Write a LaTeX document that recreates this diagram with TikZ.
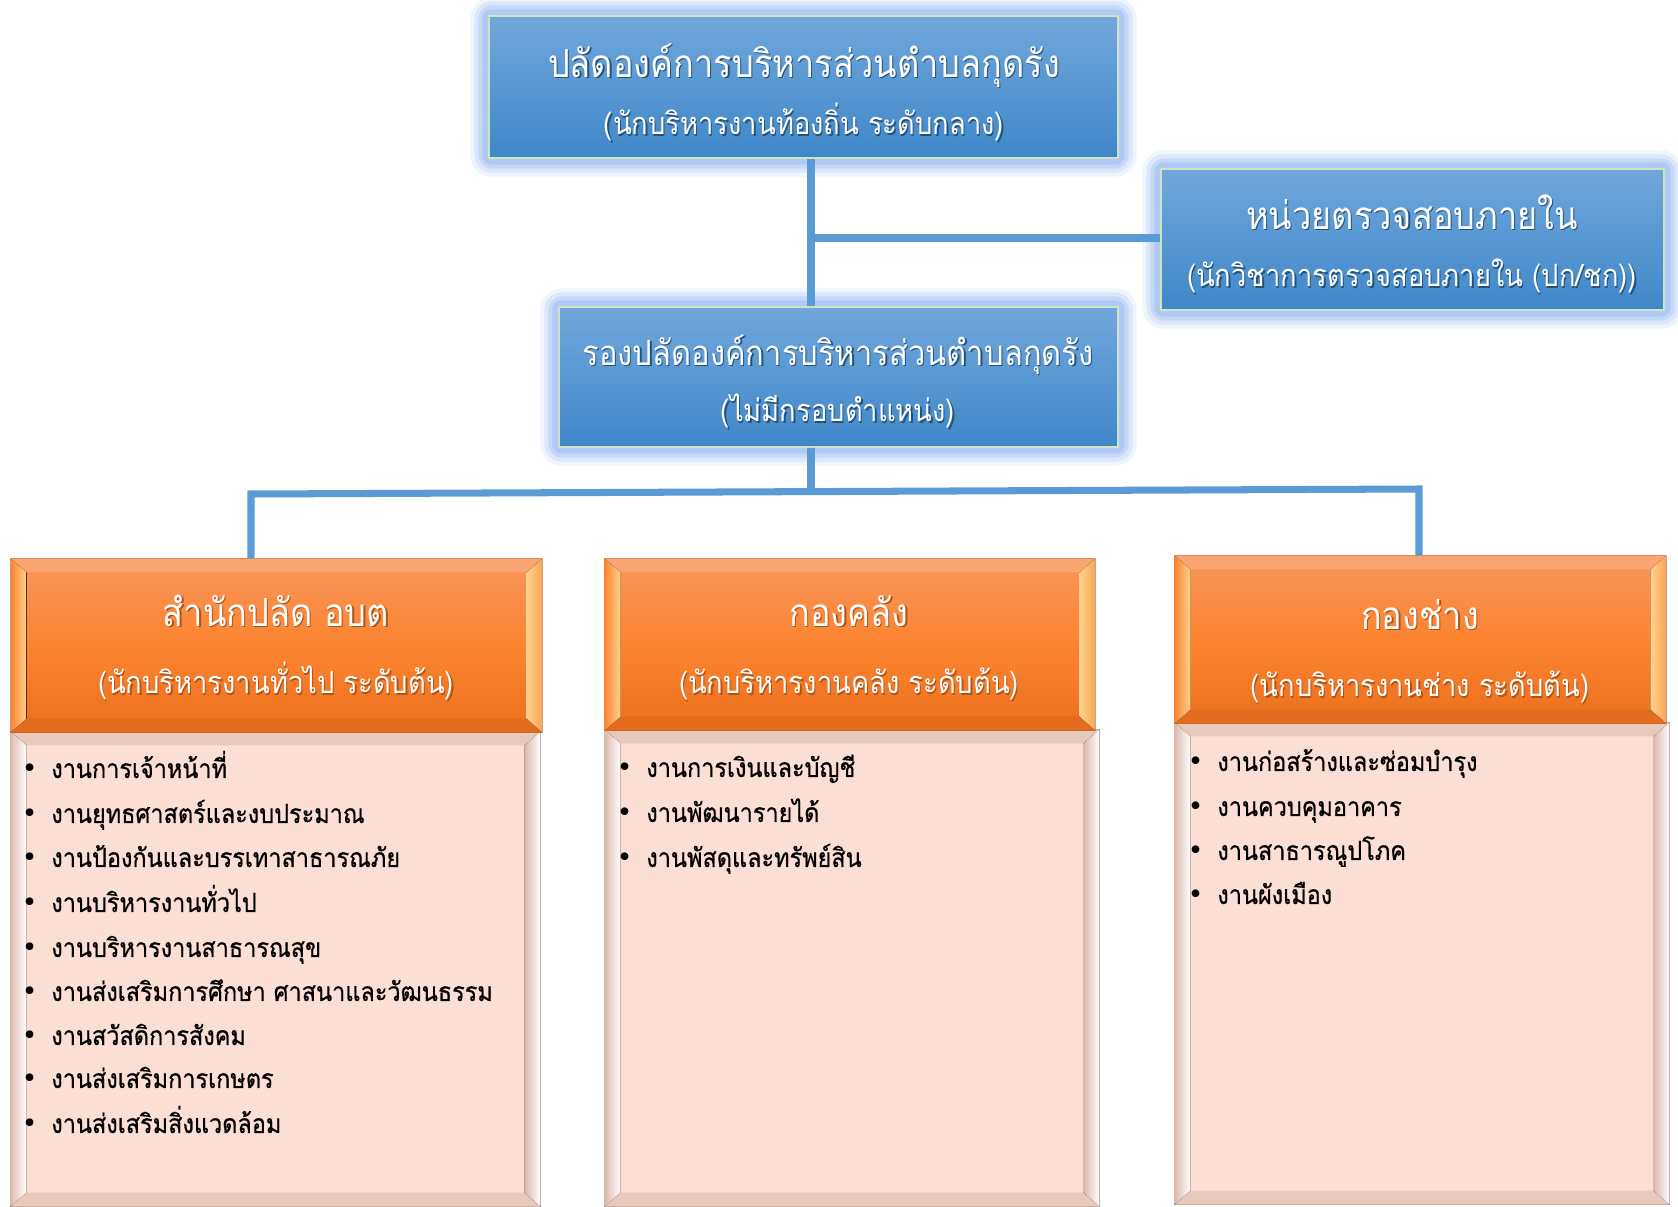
\documentclass[tikz,border=0pt]{standalone}
\usepackage{fontspec}
\setmainfont[Script=Thai,FakeStretch=0.89]{Loma}
\newfontfamily\listfont[Script=Thai,FakeStretch=0.89,FakeBold=0.6]{Loma}
\newfontfamily\bulfont{DejaVu Sans}
\usetikzlibrary{backgrounds}
\definecolor{linkblue}{HTML}{5B9BD5}
\definecolor{glowblue}{HTML}{9DBCF3}
\definecolor{bluetop}{HTML}{71A7DC}
\definecolor{bluebot}{HTML}{3F87C8}
\definecolor{blueedge}{HTML}{CDE3C3}
\definecolor{orgtop}{HTML}{F8955B}
\definecolor{orgmid}{HTML}{FC8430}
\definecolor{orgbot}{HTML}{EB6F1E}
\definecolor{orgedge}{HTML}{A85A30}
\definecolor{orggold}{HTML}{FFD28C}
\definecolor{pinkfill}{HTML}{FBDFD5}
\definecolor{pinkdark}{HTML}{DDB8AF}
\definecolor{pinkedge}{HTML}{858585}
\newcommand{\bul}[1]{\llap{{\bulfont\char"2022}\hspace{8pt}}#1}
\newcommand{\shd}[2]{\rlap{\hspace{.7pt}\raisebox{-.7pt}{\textcolor{#1}{#2}}}#2}
\newcommand{\glow}[1]{%
  \begin{scope}[on background layer]
  \fill[glowblue,opacity=.15,rounded corners=12pt] ([shift={(-18,-18)}]#1.north west) rectangle ([shift={(18,18)}]#1.south east);
  \fill[glowblue,opacity=.25,rounded corners=10pt] ([shift={(-14,-14)}]#1.north west) rectangle ([shift={(14,14)}]#1.south east);
  \fill[glowblue,opacity=.35,rounded corners=8pt] ([shift={(-10,-10)}]#1.north west) rectangle ([shift={(10,10)}]#1.south east);
  \fill[glowblue,opacity=.5,rounded corners=5pt] ([shift={(-6,-6)}]#1.north west) rectangle ([shift={(6,6)}]#1.south east);
  \end{scope}}
\newcommand{\bevel}[5]{%
  \fill[#2] (#1.north west) -- (#1.north east) -- ([shift={(-16,14)}]#1.north east) -- ([shift={(16,14)}]#1.north west) -- cycle;
  \fill[#5] (#1.south west) -- (#1.south east) -- ([shift={(-16,-14)}]#1.south east) -- ([shift={(16,-14)}]#1.south west) -- cycle;
  \fill[#3] (#1.north west) -- ([shift={(16,14)}]#1.north west) -- ([shift={(16,-14)}]#1.south west) -- (#1.south west) -- cycle;
  \fill[#4] (#1.north east) -- ([shift={(-16,14)}]#1.north east) -- ([shift={(-16,-14)}]#1.south east) -- (#1.south east) -- cycle;}

\begin{document}
\begin{tikzpicture}[x=0.02cm,y=-0.02cm,
  bluebox/.style={rectangle,draw=blueedge,line width=.8pt,top color=bluetop,bottom color=bluebot,inner sep=0pt},
  headbox/.style={rectangle,draw=orgedge,line width=.6pt,top color=orgtop,bottom color=orgbot,middle color=orgmid,inner sep=0pt},
  listbox/.style={rectangle,draw=pinkedge,line width=.8pt,fill=pinkfill,inner sep=0pt},
  title/.style={text=white,font=\fontsize{22}{26}\selectfont,text height=19pt,text depth=4pt,inner sep=0pt},
  subtitle/.style={text=white,font=\fontsize{17.5}{20}\selectfont,text height=16.5pt,text depth=3pt,inner sep=0pt},
  item/.style={anchor=west,font=\listfont\fontsize{15}{18}\selectfont,text height=15pt,text depth=2.5pt,inner sep=0pt},
  link/.style={linkblue,line width=4pt}]
\useasboundingbox (0,0) rectangle (1678,1207);
%blue boxes
\node[bluebox,minimum width=12.58cm,minimum height=2.84cm] (top) at (803.5,87) {};
\node[bluebox,minimum width=10.06cm,minimum height=2.82cm] (audit) at (1412.5,239.5) {};
\node[bluebox,minimum width=11.18cm,minimum height=2.80cm] (deputy) at (838.5,377) {};
\glow{top}
\glow{audit}
\glow{deputy}
\node[title] (topT) at (804,64) {\shd{bluebot!60!black}{ปลัดองค์การบริหารส่วนตำบลกุดรัง}};
\node[subtitle] (topS) at (804,123) {\shd{bluebot!60!black}{(นักบริหารงานท้องถิ่น ระดับกลาง)}};
\node[title] (auditT) at (1412,216) {\shd{bluebot!60!black}{หน่วยตรวจสอบภายใน}};
\node[subtitle] (auditS) at (1412,275) {\shd{bluebot!60!black}{(นักวิชาการตรวจสอบภายใน (ปก/ชก))}};
\node[title,font=\fontsize{19.8}{24}\selectfont,text height=17.5pt,text depth=3.5pt] (deputyT) at (838,353) {\shd{bluebot!60!black}{รองปลัดองค์การบริหารส่วนตำบลกุดรัง}};
\node[subtitle] (deputyS) at (838,410) {\shd{bluebot!60!black}{(ไม่มีกรอบตำแหน่ง)}};
%connectors
\coordinate (jt) at (811,238);
\coordinate (jb) at (811,492);
\coordinate (jl) at (251,494);
\coordinate (jr) at (1419,489);
\draw[link] (top.south -| jt) -- (deputy.north -| jt);
\draw[link] (jt) -- (jt -| audit.west);
\draw[link] (deputy.south -| jb) -- (jb);
%divisions
\node[listbox,minimum width=10.58cm,minimum height=9.48cm] (loffice) at (275.5,969) {};
\node[listbox,minimum width=9.88cm,minimum height=9.52cm] (lfinance) at (852,968) {};
\node[listbox,minimum width=9.88cm,minimum height=9.62cm] (lworks) at (1422,963.5) {};
\bevel{loffice}{pinkdark!60!pinkfill}{left color=pinkdark,right color=white}{left color=pinkdark,right color=white}{pinkdark!60!pinkfill}
\bevel{lfinance}{pinkdark!60!pinkfill}{left color=pinkdark,right color=white}{left color=pinkdark,right color=white}{pinkdark!60!pinkfill}
\bevel{lworks}{pinkdark!60!pinkfill}{left color=pinkdark,right color=white}{left color=pinkdark,right color=white}{pinkdark!60!pinkfill}
\node[headbox,minimum width=10.62cm,minimum height=3.46cm] (hoffice) at (276.5,645.5) {};
\node[headbox,minimum width=9.80cm,minimum height=3.42cm] (hfinance) at (850,644.5) {};
\node[headbox,minimum width=9.82cm,minimum height=3.34cm] (hworks) at (1420.5,639.5) {};
\bevel{hoffice}{orgtop!85!white}{left color=orgmid,right color=orggold}{left color=orggold,right color=orgmid!60!orggold}{orgbot!96!black}
\bevel{hfinance}{orgtop!85!white}{left color=orgmid,right color=orggold}{left color=orggold,right color=orgmid!60!orggold}{orgbot!96!black}
\bevel{hworks}{orgtop!85!white}{left color=orgmid,right color=orggold}{left color=orggold,right color=orgmid!60!orggold}{orgbot!96!black}
\draw[link] (hoffice.north -| jl) -- (jl) -- (jr) -- (hworks.north -| jr);
\node[title] (hofficeT) at (276,613) {\shd{orgbot!75!black}{สำนักปลัด อบต}};
\node[subtitle] (hofficeS) at (276,682) {\shd{orgbot!75!black}{(นักบริหารงานทั่วไป ระดับต้น)}};
\node[title] (hfinanceT) at (849,613) {\shd{orgbot!75!black}{กองคลัง}};
\node[subtitle] (hfinanceS) at (849,682) {\shd{orgbot!75!black}{(นักบริหารงานคลัง ระดับต้น)}};
\node[title] (hworksT) at (1420,616) {\shd{orgbot!75!black}{กองช่าง}};
\node[subtitle] (hworksS) at (1420,685) {\shd{orgbot!75!black}{(นักบริหารงานช่าง ระดับต้น)}};
%work lists
\node[item] (off1) at (51,767) {\bul{งานการเจ้าหน้าที่}};
\node[item] (off2) at (51,812) {\bul{งานยุทธศาสตร์และงบประมาณ}};
\node[item] (off3) at (51,856) {\bul{งานป้องกันและบรรเทาสาธารณภัย}};
\node[item] (off4) at (51,901) {\bul{งานบริหารงานทั่วไป}};
\node[item] (off5) at (51,946) {\bul{งานบริหารงานสาธารณสุข}};
\node[item] (off6) at (51,990) {\bul{งานส่งเสริมการศึกษา ศาสนาและวัฒนธรรม}};
\node[item] (off7) at (51,1034) {\bul{งานสวัสดิการสังคม}};
\node[item] (off8) at (51,1077) {\bul{งานส่งเสริมการเกษตร}};
\node[item] (off9) at (51,1122) {\bul{งานส่งเสริมสิ่งแวดล้อม}};
\node[item] (fin1) at (646,766) {\bul{งานการเงินและบัญชี}};
\node[item] (fin2) at (646,811) {\bul{งานพัฒนารายได้}};
\node[item] (fin3) at (646,856) {\bul{งานพัสดุและทรัพย์สิน}};
\node[item] (wrk1) at (1217,760) {\bul{งานก่อสร้างและซ่อมบำรุง}};
\node[item] (wrk2) at (1217,805) {\bul{งานควบคุมอาคาร}};
\node[item] (wrk3) at (1217,849) {\bul{งานสาธารณูปโภค}};
\node[item] (wrk4) at (1217,893) {\bul{งานผังเมือง}};
\end{tikzpicture}
\end{document}
